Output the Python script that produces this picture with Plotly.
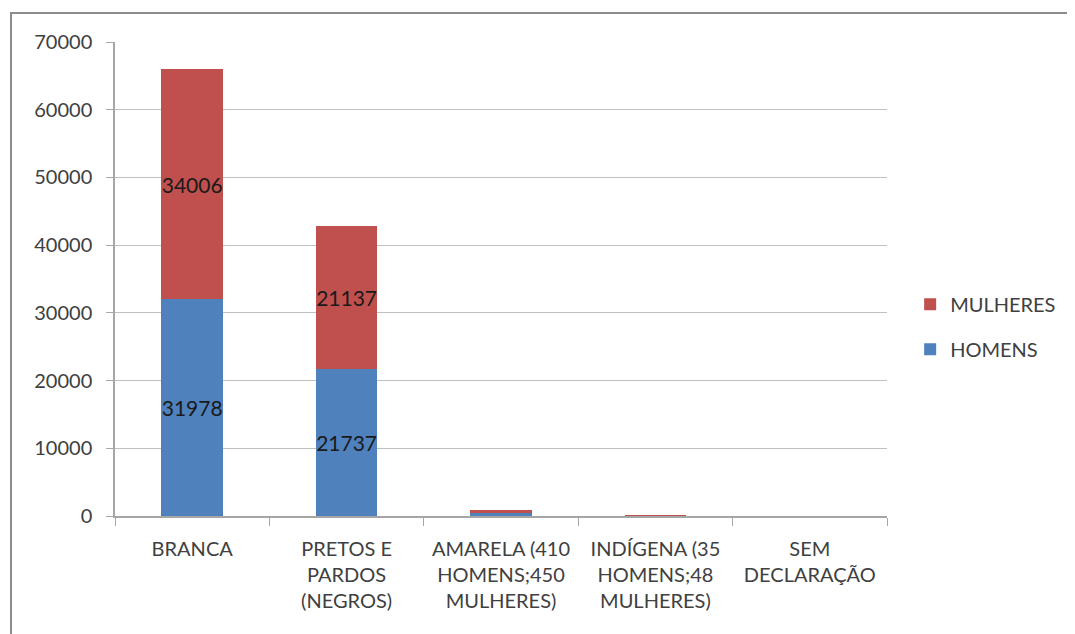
import plotly.graph_objects as go

categories = ["BRANCA", "PRETOS E<br>PARDOS<br>(NEGROS)", "AMARELA (410<br>HOMENS;450<br>MULHERES)",
              "INDÍGENA (35<br>HOMENS;48<br>MULHERES)", "SEM<br>DECLARAÇÃO"]
homens = [31978, 21737, 410, 35, 0]
mulheres = [34006, 21137, 450, 48, 0]
labeled = [True, True, False, False, False]
y_ticks = [0, 10000, 20000, 30000, 40000, 50000, 60000, 70000]

BLUE = "#4f81bd"
RED = "#c0504d"
FONT = "Lato, Open Sans, sans-serif"
TXT = "#404040"

def labels(vals):
    return [str(v) if show else "" for v, show in zip(vals, labeled)]

fig = go.Figure()
fig.add_trace(go.Bar(
    x=categories, y=homens, name="HOMENS", marker=dict(color=BLUE, line=dict(width=0)),
    text=labels(homens), textposition="inside", insidetextanchor="middle", textangle=0,
    constraintext="none", textfont=dict(family=FONT, size=21, color="#1a1a1a"),
    legendgroup="h", legendrank=2,
))
fig.add_trace(go.Bar(
    x=categories, y=mulheres, name="MULHERES", marker=dict(color=RED, line=dict(width=0)),
    text=labels(mulheres), textposition="inside", insidetextanchor="middle", textangle=0,
    constraintext="none", textfont=dict(family=FONT, size=21, color="#1a1a1a"),
    legendgroup="m", legendrank=1,
))

fig.update_layout(
    width=1075, height=634,
    barmode="stack", bargap=0.6,
    plot_bgcolor="white", paper_bgcolor="white",
    margin=dict(l=107, r=196, t=34, b=126),
    font=dict(family=FONT, size=20, color=TXT),
    legend=dict(x=1.03, y=0.399, xanchor="left", yanchor="middle",
                traceorder="grouped", tracegroupgap=16,
                font=dict(family=FONT, size=20, color=TXT),
                itemwidth=30),
    xaxis=dict(showline=True, linecolor="#a6a6a6", linewidth=1.5,
               ticks="outside", tickson="boundaries", ticklen=8, tickcolor="#a6a6a6",
               tickfont=dict(family=FONT, size=20, color=TXT), showgrid=False,
               ticklabelstandoff=14),
    yaxis=dict(range=[0, 70000], tickvals=y_ticks, tickformat="d", showline=True,
               linecolor="#a6a6a6", linewidth=1.5,
               ticks="outside", ticklen=7, tickcolor="#a6a6a6",
               showgrid=True, gridcolor="#c0c0c0", gridwidth=1.3,
               tickfont=dict(family=FONT, size=20, color=TXT), ticklabelstandoff=10,
               zeroline=False),
    shapes=[dict(type="rect", xref="paper", yref="paper", x0=-0.1347, x1=1.5, y0=-0.5, y1=1.061,
                 line=dict(color="#8c8c8c", width=2), fillcolor="rgba(0,0,0,0)", layer="below")],
)

fig.write_html("out.html")
